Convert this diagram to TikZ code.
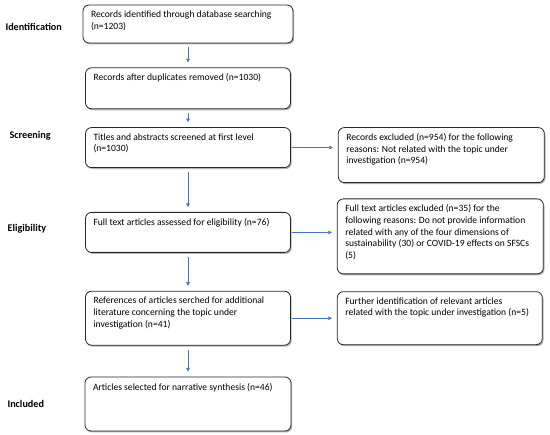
\documentclass[tikz,border=0pt]{standalone}
\usepackage{fontspec}
\setmainfont{Carlito}
\usetikzlibrary{positioning, arrows.meta, shadows}

% top aligned text block: width, height, text
\newcommand{\boxtext}[3]{\parbox[t][#2][t]{#1}{\raggedright #3}}

\begin{document}
\begin{tikzpicture}[
    x=1pt, y=1pt,
    % box of the flow chart
    stagebox/.style={
        draw=black!85,
        line width=0.8pt,
        rounded corners=6pt,
        fill=white,
        inner xsep=8pt,
        inner ysep=6pt,
        font=\fontsize{9.6}{11.6}\selectfont,
        drop shadow={shadow xshift=1.2pt, shadow yshift=-1.5pt, fill=black!60, opacity=0.5}
    },
    phase/.style={
        anchor=west,
        font=\fontsize{10.2}{12}\selectfont\bfseries
    },
    flow/.style={
        -{Triangle[width=3.6pt, length=3.6pt]},
        draw={rgb,255:red,68;green,114;blue,196},
        line width=0.5pt,
        shorten >=5pt,
        shorten <=4pt
    }
]
    \useasboundingbox (0,0) rectangle (550,-435);

    % --- 1. Place Nodes ---
    \node[stagebox] (ident) at (188,-24) {\boxtext{194pt}{26pt}{Records identified through database searching\\(n=1203)}};
    \node[stagebox] (dupl) [below=24pt of ident] {\boxtext{189pt}{29pt}{Records after duplicates removed (n=1030)}};
    \node[stagebox] (screen) [below=18pt of dupl] {\boxtext{189pt}{28pt}{Titles and abstracts screened at first level\\(n=1030)}};
    \node[stagebox] (fulltext) [below=44pt of screen] {\boxtext{189pt}{28pt}{Full text articles assessed for eligibility (n=76)}};
    \node[stagebox] (refs) [below=38pt of fulltext] {\boxtext{189pt}{42pt}{References of articles serched for additional\\literature concerning the topic under\\investigation (n=41)}};
    \node[stagebox] (incl) [below=31pt of refs] {\boxtext{190pt}{42pt}{Articles selected for narrative synthesis (n=46)}};

    % excluded records on the right
    \node[stagebox] (excl1) [right=47pt of screen.north east, anchor=north west] {\boxtext{190pt}{43pt}{Records excluded (n=954) for the following\\reasons: Not related with the topic under\\investigation (n=954)}};
    \node[stagebox] (excl2) [right=46pt of fulltext, yshift=-4pt] {\boxtext{190pt}{63pt}{Full text articles excluded (n=35) for the\\following reasons: Do not provide information\\related with any of the four dimensions of\\sustainability (30) or COVID-19 effects on SFSCs\\(5)}};
    \node[stagebox] (further) [right=46pt of refs] {\boxtext{189pt}{41pt}{Further identification of relevant articles\\related with the topic under investigation (n=5)}};

    % phase names
    \node[phase] (pIdent) at (2,-27) {Identification};
    \node[phase] (pScreen) at (6,-136) {Screening};
    \node[phase] (pElig) at (4,-229) {Eligibility};
    \node[phase] (pIncl) at (4,-404) {Included};

    % --- 2. Draw Edges ---
    \draw[flow] (ident) -- (dupl);
    \draw[flow] (dupl) -- (screen);
    \draw[flow] (screen) -- (fulltext);
    \draw[flow] (fulltext) -- (refs);
    \draw[flow] (refs) -- (incl);

    \draw[flow, shorten <=1pt] (screen.east) -- (screen.east -| excl1.west);
    \draw[flow, shorten <=1pt] (fulltext.east) -- (fulltext.east -| excl2.west);
    \draw[flow, shorten <=1pt] (refs.east) -- (refs.east -| further.west);

\end{tikzpicture}
\end{document}
